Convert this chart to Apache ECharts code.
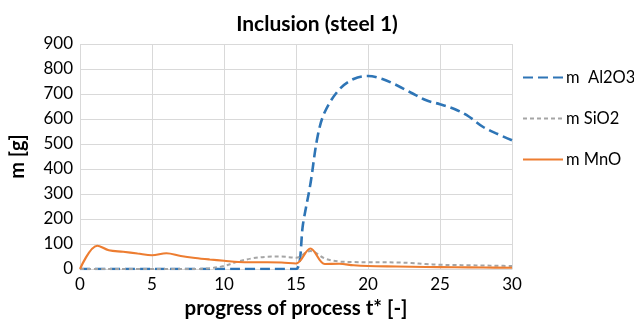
<!DOCTYPE html>
<html>
<head>
<meta charset="utf-8">
<script src="https://cdn.jsdelivr.net/npm/echarts@6/dist/echarts.min.js"></script>
<style>html,body{margin:0;padding:0;background:#fff}#c{width:634px;height:324px}</style>
</head>
<body>
<div id="c"></div>
<script>
var xTicks = [0, 5, 10, 15, 20, 25, 30];
var yTicks = [0, 100, 200, 300, 400, 500, 600, 700, 800, 900];

var al2o3T = [0, 2, 4, 6, 8, 10, 12, 14, 15, 15.5, 16, 16.5, 17, 18, 19, 20, 21, 22, 23, 24, 25, 26, 27, 28, 29, 30];
var al2o3V = [0, 0, 0, 0, 0, 0, 0, 0, 0, 185, 340, 530, 628, 718, 760, 772, 760, 735, 705, 676, 659, 640, 610, 568, 540, 515];

var sio2T = [0, 2, 4, 6, 8, 9, 10, 11, 12, 13, 14, 15, 16, 17, 18, 19, 20, 21, 22, 23, 24, 25, 26, 27, 28, 29, 30];
var sio2V = [0, 0, 0, 0, 0, 3, 12, 30, 43, 49, 50, 45, 72, 42, 30, 28, 27, 27, 26, 24, 20, 17, 16, 15, 14, 13, 12];

var mnoT = [0, 1.2, 2, 3, 4, 5, 6, 7, 8, 9, 10, 11, 12, 13, 14, 15, 16, 17, 18, 19, 20, 22, 24, 26, 28, 30];
var mnoV = [0, 93, 75, 69, 62, 55, 63, 52, 44, 38, 33, 28, 27, 27, 26, 22, 82, 20, 21, 15, 12, 10, 8, 7, 6, 5];

var seriesNames = ['m  Al2O3', 'm SiO2', 'm MnO'];

function pairs(t, v) { return t.map(function (x, i) { return [x, v[i]]; }); }

var FONT = 'Lato';
var chart = echarts.init(document.getElementById('c'), null, { renderer: 'canvas' });
chart.setOption({
  animation: false,
  backgroundColor: '#fff',
  textStyle: { fontFamily: FONT },
  title: {
    text: 'Inclusion (steel 1)',
    left: 'center',
    top: 9,
    textStyle: { fontFamily: FONT, fontSize: 21, fontWeight: 'bold', color: '#000' }
  },
  legend: {
    orient: 'vertical',
    left: 522,
    top: 69,
    padding: 0,
    itemGap: 24,
    itemWidth: 40,
    itemHeight: 17,
    data: seriesNames,
    itemStyle: { opacity: 0 },
    textStyle: { fontFamily: FONT, fontSize: 16.5, color: '#000', padding: [0, 0, 0, -2] }
  },
  grid: { left: 79, right: 122, top: 44, bottom: 52, containLabel: false },
  xAxis: {
    type: 'value', min: xTicks[0], max: xTicks[xTicks.length - 1], interval: 5,
    name: 'progress of process t* [-]',
    nameLocation: 'middle', nameGap: 29,
    nameTextStyle: { fontFamily: FONT, fontSize: 20.5, fontWeight: 'bold', color: '#000' },
    axisLine: { show: true, lineStyle: { color: '#D9D9D9', width: 1 } },
    axisTick: { show: false },
    axisLabel: { fontFamily: FONT, fontSize: 17, color: '#000', margin: 7 },
    splitLine: { show: true, lineStyle: { color: '#D9D9D9', width: 1 } }
  },
  yAxis: {
    type: 'value', min: yTicks[0], max: yTicks[yTicks.length - 1], interval: 100,
    name: 'm [g]',
    nameLocation: 'middle', nameGap: 52, nameRotate: 90,
    nameTextStyle: { fontFamily: FONT, fontSize: 20, fontWeight: 'bold', color: '#000' },
    axisLine: { show: false },
    axisTick: { show: false },
    axisLabel: { fontFamily: FONT, fontSize: 17, color: '#000', margin: 7 },
    splitLine: { show: true, lineStyle: { color: '#D9D9D9', width: 1 } }
  },
  series: [
    {
      name: seriesNames[0], type: 'line', data: pairs(al2o3T, al2o3V),
      smooth: 0.35, symbol: 'none', color: '#2E75B6',
      lineStyle: { color: '#2E75B6', width: 2.6, type: [10, 5] }
    },
    {
      name: seriesNames[1], type: 'line', data: pairs(sio2T, sio2V),
      smooth: 0.35, symbol: 'none', color: '#A5A5A5',
      lineStyle: { color: '#A5A5A5', width: 2, type: [4, 3] }
    },
    {
      name: seriesNames[2], type: 'line', data: pairs(mnoT, mnoV),
      smooth: 0.35, symbol: 'none', color: '#ED7D31',
      lineStyle: { color: '#ED7D31', width: 2.2, type: 'solid' }
    }
  ]
});
</script>
</body>
</html>
